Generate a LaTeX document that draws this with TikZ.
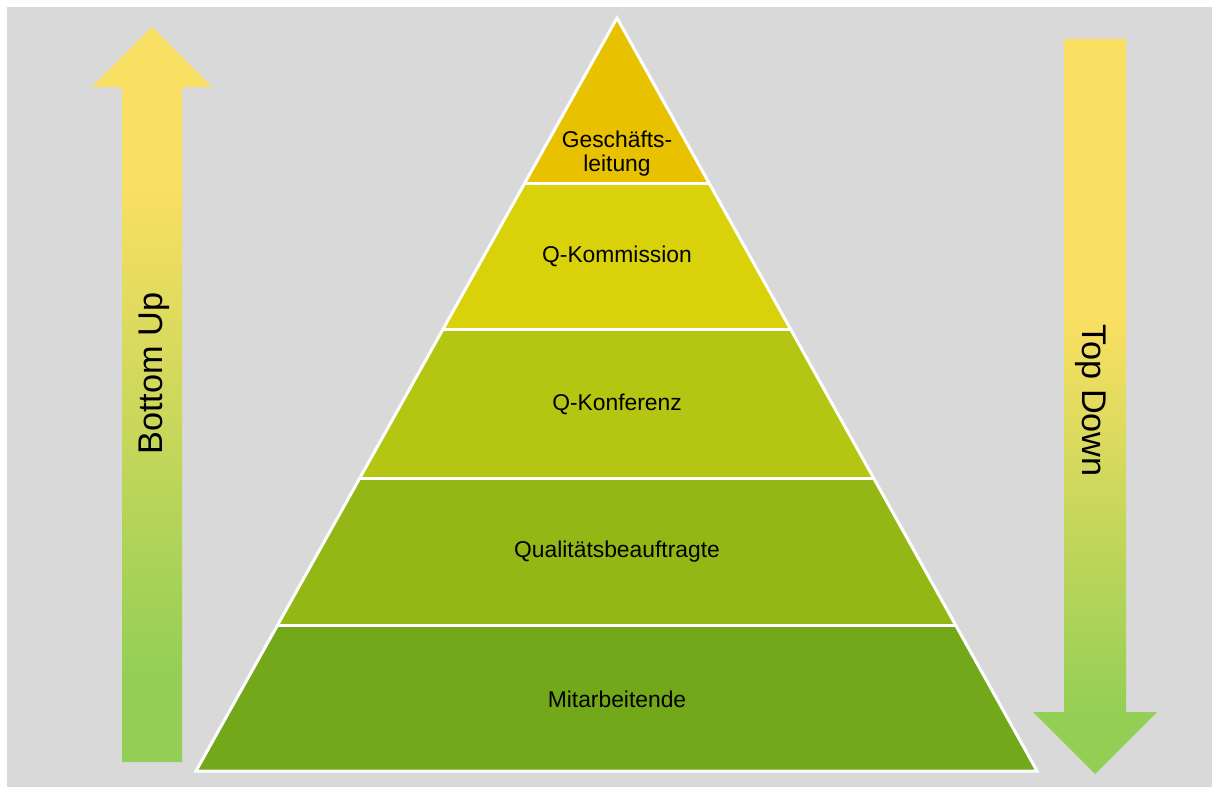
\documentclass[tikz,border=0pt]{standalone}
\usepackage{fontspec}
\setmainfont{Liberation Sans}
\usetikzlibrary{calc}

\definecolor{bggray}{HTML}{D9D9D9}
\definecolor{arryellow}{HTML}{F9DF62}
\definecolor{arrgreen}{HTML}{94CF55}
\definecolor{lvlA}{HTML}{E8C200}
\definecolor{lvlB}{HTML}{D9D20B}
\definecolor{lvlC}{HTML}{B5C612}
\definecolor{lvlD}{HTML}{93B815}
\definecolor{lvlE}{HTML}{72A81A}

\pgfdeclareverticalshading{upfade}{100bp}{color(0bp)=(arrgreen); color(31bp)=(arrgreen); color(64bp)=(arryellow); color(100bp)=(arryellow)}
\pgfdeclareverticalshading{downfade}{100bp}{color(0bp)=(arrgreen); color(29bp)=(arrgreen); color(56bp)=(arryellow); color(100bp)=(arryellow)}

\begin{document}
\begin{tikzpicture}[x=0.02cm,y=-0.02cm,
  edge/.style={draw=white,line width=1.7pt},
  lbl/.style={font=\fontsize{13}{13.6}\selectfont,inner sep=0pt,text=black},
  arrlbl/.style={font=\fontsize{19.5}{22}\selectfont,inner sep=0pt,text=black}]
\fill[white] (0,0) rectangle (1212,787);
\useasboundingbox (0,0) rectangle (1212,787);
\fill[bggray] (7,7) rectangle (1212,787);

% arrows
\shade[shading=upfade] (122,762) -- (122,87) -- (92,87) -- (152,27) -- (212,87) -- (182,87) -- (182,762) -- cycle;
\shade[shading=downfade] (1064,39) -- (1126,39) -- (1126,712) -- (1157,712) -- (1095,774) -- (1033,712) -- (1064,712) -- cycle;

% pyramid
\coordinate (apex) at (617,18);
\coordinate (bl) at (196,771);
\coordinate (br) at (1037,771);
\foreach \ta/\tb/\col in {0/0.2204/lvlA,0.2204/0.4143/lvlB,0.4143/0.6109/lvlC,0.6109/0.8061/lvlD,0.8061/1/lvlE}
  \fill[\col] ($(apex)!\ta!(bl)$) -- ($(apex)!\tb!(bl)$) -- ($(apex)!\tb!(br)$) -- ($(apex)!\ta!(br)$) -- cycle;
\draw[edge,line join=miter] (apex) -- (bl) -- (br) -- cycle;
\foreach \t in {0.2204,0.4143,0.6109,0.8061}
  \draw[edge] ($(apex)!\t!(bl)$) -- ($(apex)!\t!(br)$);

% labels
\node[lbl,anchor=north,align=center] (gl) at (617,131) {Geschäfts-\\leitung};
\node[lbl,anchor=base] (qk) at (617,262) {Q-Kommission};
\node[lbl,anchor=base] (qkf) at (617,410) {Q-Konferenz};
\node[lbl,anchor=base] (qb) at (617,557) {Qualitätsbeauftragte};
\node[lbl,anchor=base] (ma) at (617,707) {Mitarbeitende};

\node[arrlbl,rotate=90,anchor=base] (bu) at (162,373.5) {Bottom Up};
\node[arrlbl,rotate=-90,anchor=base] (td) at (1082,400.5) {Top Down};
\end{tikzpicture}
\end{document}
